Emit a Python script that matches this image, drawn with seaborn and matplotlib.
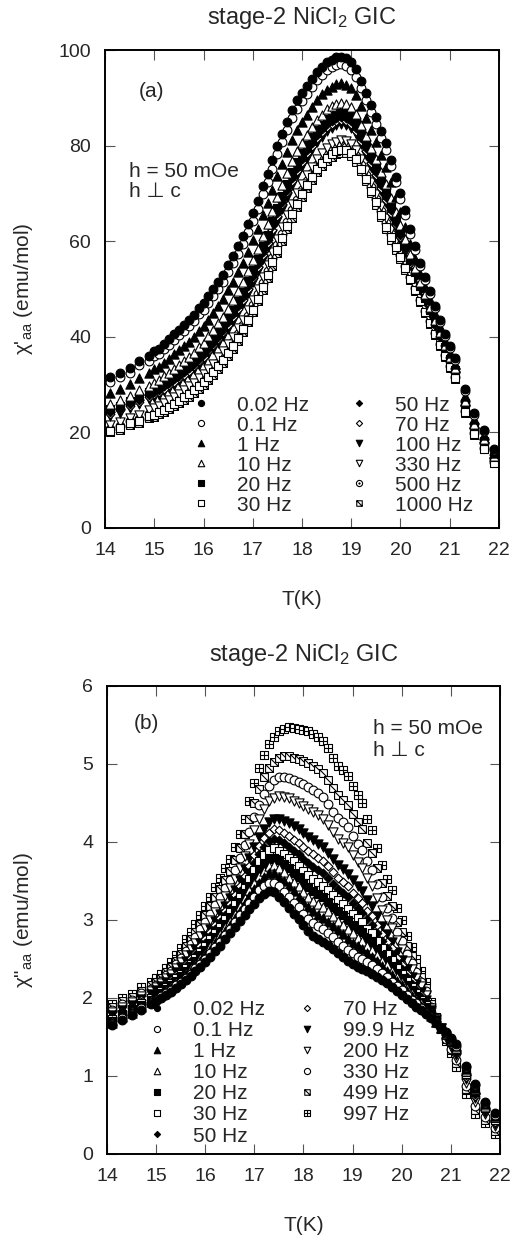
import matplotlib
matplotlib.use("Agg")
import matplotlib.pyplot as plt
from matplotlib.path import Path
from matplotlib.legend_handler import HandlerTuple
import seaborn as sns

# temperature grid (K), same for both panels
temps = [14.1, 14.3, 14.5, 14.7, 14.9, 15.0, 15.1, 15.2, 15.3, 15.4, 15.5, 15.6, 15.7, 15.8, 15.9,
         16.0, 16.1, 16.2, 16.3, 16.4, 16.5, 16.6, 16.7, 16.8, 16.9, 17.0, 17.1, 17.2, 17.3, 17.4,
         17.5, 17.6, 17.7, 17.8, 17.9, 18.0, 18.1, 18.2, 18.3, 18.4, 18.5, 18.6, 18.7, 18.8, 18.9,
         19.0, 19.1, 19.2, 19.3, 19.4, 19.5, 19.6, 19.7, 19.8, 19.9, 20.0, 20.1, 20.2, 20.3, 20.4,
         20.5, 20.6, 20.7, 20.8, 20.9, 21.0, 21.1, 21.3, 21.5, 21.7, 21.9]

# (a) chi' (emu/mol)
a_002 = [31.5, 32.5, 33.5, 35, 36, 37, 37.5, 38.5, 39.5, 40.5, 41.5, 42.5, 43.5, 44.5, 46, 47, 48.5, 50, 51.5, 53,
         55, 57, 59, 61, 63.5, 66, 68.5, 71.5, 74, 77, 80, 82.5, 85, 87.5, 89.5, 91, 92.5, 94, 95.5, 96.5,
         97.5, 98, 98.5, 98.6, 98.3, 97.5, 96, 93.5, 91, 88.5, 86, 83, 80.5, 77, 73.5, 70, 66.5, 62.5, 59, 55.5,
         52.5, 49.5, 46.5, 43.5, 40.5, 38, 35.5, 29, 24, 20.5, 16.5]
a_01 = [30.6, 31.5, 32.5, 34.0, 35.0, 35.9, 36.4, 37.4, 38.3, 39.3, 40.3, 41.2, 42.2, 43.2, 44.7, 45.6, 47.1, 48.6, 50.0, 51.5,
        53.5, 55.4, 57.4, 59.4, 61.9, 64.3, 66.8, 69.8, 72.3, 75.2, 78.2, 80.7, 83.2, 85.7, 87.7, 89.3, 90.8, 92.3, 93.8, 94.8,
        95.8, 96.4, 96.9, 97.0, 96.7, 95.9, 94.4, 92.0, 89.5, 87.0, 84.5, 81.6, 79.1, 75.7, 72.3, 68.9, 65.5, 61.6, 58.2, 54.8,
        51.9, 49.0, 46.0, 43.1, 40.1, 37.6, 35.2, 28.6, 23.6, 20.2, 16.3]
a_1 = [28.3, 29.1, 30.1, 31.4, 32.4, 33.2, 33.7, 34.5, 35.4, 36.3, 37.2, 38.1, 39.0, 40.0, 41.3, 42.2, 43.6, 45.0, 46.4, 47.9,
       49.7, 51.5, 53.5, 55.4, 57.8, 60.2, 62.6, 65.4, 67.9, 70.8, 73.7, 76.2, 78.7, 81.2, 83.2, 84.9, 86.5, 88.1, 89.6, 90.7,
       91.7, 92.3, 92.8, 93.0, 92.7, 92.0, 90.5, 88.2, 85.8, 83.3, 80.8, 78.0, 75.5, 72.3, 69.2, 66.1, 63.0, 59.5, 56.3, 53.2,
       50.4, 47.6, 44.8, 42.0, 39.2, 36.7, 34.3, 27.6, 22.7, 19.4, 15.7]
a_10 = [26.0, 26.7, 27.7, 28.8, 29.8, 30.4, 30.9, 31.7, 32.5, 33.3, 34.1, 35.0, 35.8, 36.7, 37.9, 38.8, 40.1, 41.4, 42.8, 44.2,
        45.9, 47.6, 49.5, 51.4, 53.7, 56.0, 58.4, 61.1, 63.6, 66.4, 69.2, 71.7, 74.2, 76.7, 78.8, 80.5, 82.2, 83.8, 85.4, 86.5,
        87.6, 88.2, 88.8, 89.0, 88.8, 88.0, 86.6, 84.4, 82.1, 79.6, 77.1, 74.4, 71.9, 69.0, 66.2, 63.4, 60.5, 57.4, 54.4, 51.5,
        48.9, 46.2, 43.6, 40.9, 38.2, 35.8, 33.4, 26.6, 21.8, 18.6, 15.1]
a_20 = [24.8, 25.5, 26.5, 27.5, 28.5, 29.1, 29.6, 30.3, 31.0, 31.8, 32.6, 33.4, 34.2, 35.1, 36.2, 37.1, 38.4, 39.6, 40.9, 42.3,
        44.0, 45.7, 47.5, 49.4, 51.6, 53.9, 56.3, 58.9, 61.4, 64.2, 67.0, 69.5, 72.0, 74.4, 76.5, 78.4, 80.1, 81.7, 83.3, 84.4,
        85.5, 86.2, 86.7, 86.9, 86.8, 86.1, 84.7, 82.5, 80.3, 77.8, 75.3, 72.6, 70.1, 67.3, 64.6, 62.0, 59.3, 56.3, 53.5, 50.7,
        48.2, 45.6, 43.0, 40.4, 37.8, 35.4, 33.0, 26.1, 21.4, 18.2, 14.8]
a_30 = [20.3, 20.9, 21.9, 22.4, 23.4, 23.7, 24.2, 24.7, 25.3, 26.0, 26.6, 27.3, 28.0, 28.8, 29.6, 30.5, 31.5, 32.6, 33.9, 35.2,
        36.6, 38.1, 39.8, 41.6, 43.6, 45.7, 48.0, 50.5, 53.0, 55.6, 58.2, 60.7, 63.2, 65.6, 67.8, 69.9, 71.7, 73.4, 75.0, 76.3,
        77.4, 78.2, 78.8, 79.1, 79.0, 78.4, 77.1, 75.2, 73.1, 70.6, 68.1, 65.5, 63.0, 60.8, 58.7, 56.6, 54.4, 52.1, 49.8, 47.5,
        45.2, 42.9, 40.6, 38.3, 35.9, 33.6, 31.3, 24.2, 19.6, 16.6, 13.6]
a_50 = [24.3, 24.9, 25.9, 26.8, 27.8, 28.4, 28.9, 29.6, 30.3, 31.1, 31.8, 32.6, 33.4, 34.3, 35.4, 36.3, 37.5, 38.7, 40.0, 41.4,
        43.0, 44.7, 46.5, 48.4, 50.6, 52.8, 55.2, 57.8, 60.3, 63.1, 65.8, 68.3, 70.8, 73.3, 75.4, 77.3, 79.0, 80.6, 82.2, 83.4,
        84.5, 85.2, 85.7, 85.9, 85.8, 85.1, 83.7, 81.6, 79.4, 76.9, 74.4, 71.7, 69.2, 66.5, 63.9, 61.3, 58.6, 55.8, 53.0, 50.3,
        47.8, 45.2, 42.7, 40.1, 37.5, 35.2, 32.8, 25.9, 21.2, 18.0, 14.6]
a_70 = [23.9, 24.6, 25.6, 26.4, 27.4, 28.0, 28.5, 29.1, 29.9, 30.6, 31.3, 32.1, 32.9, 33.8, 34.9, 35.8, 37.0, 38.2, 39.5, 40.9,
        42.5, 44.1, 45.9, 47.8, 50.0, 52.2, 54.6, 57.2, 59.7, 62.4, 65.2, 67.7, 70.2, 72.6, 74.7, 76.6, 78.4, 80.0, 81.6, 82.8,
        83.8, 84.5, 85.1, 85.3, 85.2, 84.5, 83.1, 81.0, 78.8, 76.3, 73.8, 71.1, 68.6, 66.0, 63.4, 60.9, 58.3, 55.4, 52.7, 50.0,
        47.6, 45.0, 42.5, 39.9, 37.4, 35.0, 32.7, 25.7, 21.0, 17.9, 14.5]
a_100 = [23.5, 24.1, 25.1, 25.9, 26.9, 27.4, 27.9, 28.6, 29.3, 30.0, 30.7, 31.5, 32.3, 33.2, 34.2, 35.1, 36.3, 37.5, 38.8, 40.1,
         41.7, 43.4, 45.1, 47.0, 49.2, 51.4, 53.7, 56.3, 58.8, 61.5, 64.3, 66.8, 69.3, 71.7, 73.8, 75.7, 77.5, 79.2, 80.7, 81.9,
         83.0, 83.7, 84.3, 84.5, 84.4, 83.7, 82.4, 80.3, 78.1, 75.6, 73.1, 70.4, 67.9, 65.3, 62.8, 60.3, 57.8, 55.0, 52.4, 49.7,
         47.3, 44.7, 42.2, 39.7, 37.2, 34.9, 32.5, 25.5, 20.9, 17.7, 14.4]
a_330 = [21.5, 22.1, 23.1, 23.7, 24.7, 25.1, 25.6, 26.2, 26.8, 27.5, 28.1, 28.8, 29.6, 30.4, 31.3, 32.2, 33.3, 34.4, 35.7, 37.0,
         38.5, 40.0, 41.8, 43.6, 45.7, 47.8, 50.1, 52.6, 55.1, 57.8, 60.4, 62.9, 65.4, 67.8, 70.0, 72.0, 73.9, 75.6, 77.1, 78.4,
         79.5, 80.3, 80.8, 81.1, 81.0, 80.4, 79.0, 77.1, 74.9, 72.4, 69.9, 67.3, 64.8, 62.5, 60.2, 58.0, 55.6, 53.2, 50.7, 48.3,
         46.0, 43.6, 41.2, 38.8, 36.4, 34.1, 31.8, 24.7, 20.1, 17.0, 13.9]
a_500 = [20.8, 21.3, 22.3, 22.9, 23.9, 24.3, 24.8, 25.3, 25.9, 26.6, 27.2, 27.9, 28.6, 29.4, 30.3, 31.2, 32.2, 33.4, 34.6, 35.9,
         37.3, 38.9, 40.6, 42.4, 44.4, 46.6, 48.9, 51.3, 53.8, 56.5, 59.1, 61.6, 64.1, 66.5, 68.7, 70.7, 72.6, 74.3, 75.9, 77.2,
         78.3, 79.0, 79.6, 79.9, 79.8, 79.2, 77.9, 75.9, 73.8, 71.3, 68.8, 66.3, 63.8, 61.5, 59.3, 57.2, 54.9, 52.6, 50.2, 47.8,
         45.5, 43.2, 40.8, 38.5, 36.1, 33.8, 31.5, 24.4, 19.8, 16.8, 13.7]
a_1000 = [20, 20.5, 21.5, 22, 23, 23.3, 23.8, 24.3, 24.9, 25.5, 26.1, 26.8, 27.5, 28.3, 29.1, 30, 31, 32.1, 33.3, 34.6,
          36, 37.5, 39.2, 41, 43, 45.1, 47.4, 49.8, 52.3, 54.9, 57.5, 60, 62.5, 64.9, 67.1, 69.2, 71.1, 72.8, 74.4, 75.7,
          76.8, 77.6, 78.2, 78.5, 78.4, 77.8, 76.5, 74.6, 72.5, 70, 67.5, 65, 62.5, 60.3, 58.2, 56.2, 54, 51.8, 49.5, 47.2,
          45, 42.7, 40.4, 38.1, 35.8, 33.5, 31.2, 24, 19.5, 16.5, 13.5]

# (b) chi'' (emu/mol)
b_002 = [1.65, 1.72, 1.78, 1.85, 1.92, 1.96, 2.00, 2.04, 2.08, 2.13, 2.18, 2.23, 2.28, 2.34, 2.40, 2.46, 2.53, 2.60, 2.67, 2.75,
         2.83, 2.91, 2.99, 3.07, 3.14, 3.21, 3.28, 3.33, 3.37, 3.36, 3.30, 3.23, 3.15, 3.08, 3.01, 2.93, 2.86, 2.80, 2.76, 2.72,
         2.68, 2.63, 2.58, 2.53, 2.48, 2.44, 2.40, 2.37, 2.34, 2.31, 2.27, 2.23, 2.19, 2.14, 2.09, 2.04, 1.99, 1.94, 1.89, 1.84,
         1.79, 1.74, 1.68, 1.62, 1.56, 1.49, 1.41, 1.13, 0.90, 0.67, 0.52]
b_01 = [1.67, 1.74, 1.80, 1.87, 1.94, 1.98, 2.02, 2.06, 2.10, 2.16, 2.21, 2.26, 2.31, 2.38, 2.44, 2.50, 2.58, 2.65, 2.72, 2.81,
        2.89, 2.97, 3.06, 3.14, 3.22, 3.30, 3.38, 3.44, 3.48, 3.48, 3.43, 3.36, 3.29, 3.22, 3.16, 3.08, 3.01, 2.96, 2.92, 2.88,
        2.83, 2.78, 2.72, 2.67, 2.62, 2.58, 2.53, 2.50, 2.46, 2.42, 2.37, 2.32, 2.27, 2.21, 2.15, 2.10, 2.04, 1.98, 1.93, 1.87,
        1.81, 1.75, 1.69, 1.62, 1.55, 1.48, 1.39, 1.11, 0.88, 0.65, 0.50]
b_1 = [1.68, 1.75, 1.81, 1.89, 1.95, 2.00, 2.04, 2.08, 2.13, 2.18, 2.24, 2.29, 2.35, 2.41, 2.48, 2.55, 2.62, 2.70, 2.77, 2.86,
       2.94, 3.03, 3.12, 3.22, 3.31, 3.40, 3.48, 3.55, 3.60, 3.60, 3.55, 3.50, 3.43, 3.37, 3.30, 3.23, 3.17, 3.11, 3.07, 3.03,
       2.98, 2.92, 2.87, 2.82, 2.76, 2.71, 2.66, 2.63, 2.58, 2.53, 2.47, 2.41, 2.35, 2.29, 2.22, 2.16, 2.09, 2.03, 1.96, 1.90,
       1.84, 1.77, 1.69, 1.62, 1.55, 1.47, 1.38, 1.09, 0.85, 0.64, 0.49]
b_10 = [1.70, 1.77, 1.83, 1.90, 1.97, 2.01, 2.05, 2.10, 2.15, 2.20, 2.26, 2.32, 2.38, 2.44, 2.51, 2.58, 2.66, 2.74, 2.82, 2.91,
        2.99, 3.08, 3.18, 3.28, 3.38, 3.47, 3.56, 3.63, 3.69, 3.70, 3.66, 3.61, 3.54, 3.49, 3.43, 3.36, 3.30, 3.24, 3.20, 3.16,
        3.11, 3.05, 2.99, 2.94, 2.88, 2.83, 2.77, 2.73, 2.67, 2.62, 2.55, 2.48, 2.42, 2.35, 2.27, 2.20, 2.13, 2.06, 1.99, 1.93,
        1.86, 1.78, 1.69, 1.62, 1.54, 1.46, 1.36, 1.07, 0.83, 0.62, 0.47]
b_20 = [1.71, 1.78, 1.84, 1.91, 1.98, 2.02, 2.07, 2.12, 2.16, 2.22, 2.28, 2.34, 2.41, 2.47, 2.55, 2.62, 2.70, 2.78, 2.86, 2.95,
        3.04, 3.13, 3.23, 3.34, 3.44, 3.55, 3.65, 3.72, 3.78, 3.80, 3.77, 3.72, 3.66, 3.60, 3.55, 3.48, 3.42, 3.37, 3.33, 3.29,
        3.23, 3.17, 3.11, 3.06, 3.00, 2.94, 2.88, 2.84, 2.77, 2.72, 2.63, 2.55, 2.48, 2.41, 2.32, 2.25, 2.17, 2.10, 2.02, 1.95,
        1.88, 1.79, 1.70, 1.62, 1.54, 1.45, 1.35, 1.05, 0.81, 0.61, 0.46]
b_30 = [1.73, 1.80, 1.86, 1.93, 2.00, 2.04, 2.09, 2.14, 2.19, 2.25, 2.31, 2.38, 2.44, 2.51, 2.59, 2.66, 2.75, 2.83, 2.91, 3.01,
        3.10, 3.20, 3.30, 3.41, 3.53, 3.64, 3.75, 3.83, 3.90, 3.92, 3.89, 3.85, 3.80, 3.75, 3.69, 3.63, 3.58, 3.53, 3.49, 3.44,
        3.39, 3.32, 3.25, 3.20, 3.14, 3.08, 3.02, 2.97, 2.89, 2.83, 2.73, 2.64, 2.56, 2.49, 2.39, 2.31, 2.22, 2.14, 2.06, 1.98,
        1.91, 1.80, 1.70, 1.61, 1.53, 1.44, 1.33, 1.03, 0.79, 0.59, 0.44]
b_50 = [1.74, 1.82, 1.87, 1.95, 2.02, 2.06, 2.11, 2.16, 2.21, 2.27, 2.34, 2.41, 2.47, 2.55, 2.62, 2.71, 2.79, 2.88, 2.97, 3.06,
        3.15, 3.26, 3.37, 3.49, 3.61, 3.73, 3.85, 3.94, 4.01, 4.04, 4.02, 3.99, 3.94, 3.89, 3.84, 3.78, 3.73, 3.68, 3.64, 3.60,
        3.54, 3.46, 3.40, 3.34, 3.29, 3.22, 3.15, 3.09, 3.01, 2.94, 2.83, 2.73, 2.64, 2.56, 2.45, 2.37, 2.27, 2.18, 2.10, 2.01,
        1.93, 1.81, 1.71, 1.61, 1.52, 1.43, 1.31, 1.01, 0.77, 0.58, 0.43]
b_70 = [1.76, 1.83, 1.89, 1.97, 2.03, 2.08, 2.12, 2.18, 2.23, 2.30, 2.36, 2.44, 2.51, 2.58, 2.66, 2.75, 2.84, 2.93, 3.02, 3.11,
        3.21, 3.32, 3.43, 3.56, 3.69, 3.83, 3.95, 4.05, 4.12, 4.16, 4.15, 4.12, 4.08, 4.03, 3.99, 3.93, 3.88, 3.84, 3.80, 3.75,
        3.69, 3.61, 3.54, 3.49, 3.43, 3.35, 3.28, 3.22, 3.12, 3.05, 2.93, 2.82, 2.72, 2.64, 2.51, 2.42, 2.31, 2.22, 2.13, 2.04,
        1.95, 1.82, 1.71, 1.61, 1.52, 1.41, 1.29, 0.99, 0.74, 0.56, 0.41]
b_999 = [1.78, 1.85, 1.91, 1.99, 2.05, 2.10, 2.15, 2.20, 2.26, 2.33, 2.40, 2.47, 2.55, 2.63, 2.71, 2.80, 2.89, 2.99, 3.08, 3.18,
         3.28, 3.39, 3.51, 3.65, 3.79, 3.93, 4.07, 4.17, 4.25, 4.30, 4.30, 4.27, 4.24, 4.20, 4.16, 4.11, 4.06, 4.02, 3.98, 3.93,
         3.86, 3.78, 3.71, 3.65, 3.59, 3.51, 3.43, 3.37, 3.26, 3.18, 3.05, 2.92, 2.82, 2.72, 2.59, 2.49, 2.37, 2.27, 2.18, 2.08,
         1.98, 1.84, 1.72, 1.61, 1.51, 1.40, 1.27, 0.96, 0.72, 0.54, 0.39]
b_200 = [1.82, 1.89, 1.95, 2.03, 2.09, 2.14, 2.19, 2.25, 2.31, 2.39, 2.46, 2.55, 2.63, 2.71, 2.80, 2.90, 3.00, 3.10, 3.20, 3.31,
         3.41, 3.53, 3.67, 3.82, 3.98, 4.15, 4.30, 4.42, 4.52, 4.57, 4.59, 4.58, 4.57, 4.53, 4.50, 4.46, 4.42, 4.38, 4.34, 4.29,
         4.22, 4.13, 4.04, 3.99, 3.93, 3.83, 3.74, 3.67, 3.54, 3.43, 3.28, 3.13, 3.00, 2.90, 2.74, 2.63, 2.48, 2.37, 2.26, 2.15,
         2.04, 1.87, 1.73, 1.61, 1.49, 1.37, 1.23, 0.91, 0.66, 0.51, 0.36]
b_330 = [1.84, 1.92, 1.97, 2.06, 2.12, 2.17, 2.22, 2.29, 2.35, 2.43, 2.51, 2.60, 2.69, 2.78, 2.88, 2.98, 3.08, 3.19, 3.30, 3.41,
         3.51, 3.64, 3.79, 3.96, 4.13, 4.32, 4.48, 4.62, 4.72, 4.79, 4.83, 4.83, 4.82, 4.79, 4.77, 4.74, 4.70, 4.67, 4.63, 4.58,
         4.49, 4.39, 4.31, 4.25, 4.19, 4.08, 3.98, 3.90, 3.75, 3.64, 3.46, 3.29, 3.15, 3.03, 2.85, 2.73, 2.57, 2.45, 2.33, 2.21,
         2.09, 1.89, 1.74, 1.61, 1.48, 1.35, 1.20, 0.87, 0.62, 0.48, 0.33]
b_499 = [1.88, 1.96, 2.01, 2.09, 2.16, 2.20, 2.26, 2.33, 2.40, 2.48, 2.57, 2.67, 2.76, 2.85, 2.95, 3.07, 3.18, 3.29, 3.40, 3.51,
         3.63, 3.77, 3.92, 4.10, 4.30, 4.50, 4.68, 4.83, 4.95, 5.03, 5.08, 5.10, 5.10, 5.08, 5.06, 5.04, 5.01, 4.98, 4.94, 4.89,
         4.80, 4.69, 4.60, 4.54, 4.47, 4.36, 4.25, 4.16, 3.99, 3.86, 3.66, 3.47, 3.31, 3.18, 2.98, 2.85, 2.67, 2.54, 2.40, 2.27,
         2.13, 1.92, 1.75, 1.60, 1.47, 1.33, 1.17, 0.83, 0.57, 0.44, 0.29]
b_997 = [1.92, 2.00, 2.05, 2.14, 2.20, 2.25, 2.31, 2.38, 2.46, 2.55, 2.64, 2.75, 2.85, 2.95, 3.06, 3.18, 3.30, 3.42, 3.54, 3.66,
         3.78, 3.93, 4.10, 4.30, 4.52, 4.75, 4.95, 5.12, 5.25, 5.35, 5.42, 5.45, 5.47, 5.46, 5.45, 5.44, 5.42, 5.39, 5.35, 5.30,
         5.20, 5.08, 4.98, 4.92, 4.85, 4.72, 4.60, 4.50, 4.30, 4.15, 3.92, 3.70, 3.52, 3.38, 3.15, 3.00, 2.80, 2.65, 2.50, 2.35,
         2.20, 1.95, 1.76, 1.60, 1.45, 1.30, 1.12, 0.77, 0.51, 0.40, 0.25]

# marker shapes: square with a slash, square with a cross
box_slash = Path([(-1, -1), (1, -1), (1, 1), (-1, 1), (-1, -1), (-1, 1), (1, -1)],
                 [Path.MOVETO, Path.LINETO, Path.LINETO, Path.LINETO, Path.CLOSEPOLY, Path.MOVETO, Path.LINETO])
box_plus = Path([(-1, -1), (1, -1), (1, 1), (-1, 1), (-1, -1), (0, -1), (0, 1), (-1, 0), (1, 0)],
                [Path.MOVETO, Path.LINETO, Path.LINETO, Path.LINETO, Path.CLOSEPOLY,
                 Path.MOVETO, Path.LINETO, Path.MOVETO, Path.LINETO])

sizes = {"o": 40, "^": 44, "v": 44, "s": 30, "D": 20}

series_a = [("0.02 Hz", a_002, "o", True), ("0.1 Hz", a_01, "o", False),
            ("1 Hz", a_1, "^", True), ("10 Hz", a_10, "^", False),
            ("20 Hz", a_20, "s", True), ("30 Hz", a_30, "s", False),
            ("50 Hz", a_50, "D", True), ("70 Hz", a_70, "D", False),
            ("100 Hz", a_100, "v", True), ("330 Hz", a_330, "v", False),
            ("500 Hz", a_500, "odot", False), ("1000 Hz", a_1000, box_slash, False)]

series_b = [("0.02 Hz", b_002, "o", True), ("0.1 Hz", b_01, "o", False),
            ("1 Hz", b_1, "^", True), ("10 Hz", b_10, "^", False),
            ("20 Hz", b_20, "s", True), ("30 Hz", b_30, "s", False),
            ("50 Hz", b_50, "D", True), ("70 Hz", b_70, "D", False),
            ("99.9 Hz", b_999, "v", True), ("200 Hz", b_200, "v", False),
            ("330 Hz", b_330, "o", False), ("499 Hz", b_499, box_slash, False),
            ("997 Hz", b_997, box_plus, False)]

sns.set_theme(style="ticks")
plt.rcParams["font.family"] = ["Liberation Sans", "DejaVu Sans"]
plt.rcParams["mathtext.fontset"] = "custom"
plt.rcParams["mathtext.rm"] = "Liberation Sans"
plt.rcParams["mathtext.it"] = "Liberation Sans"


def draw_panel(ax, series):
    handles = {}
    # high frequencies first so the low-frequency symbols end up on top
    for label, vals, mk, filled in reversed(series):
        face = "black" if filled else "white"
        if mk == "odot":
            sns.scatterplot(x=temps, y=vals, ax=ax, marker="o", s=40, color="white",
                            edgecolor="black", linewidth=0.8, legend=False)
            h1 = ax.collections[-1]
            sns.scatterplot(x=temps, y=vals, ax=ax, marker="o", s=3, color="black",
                            edgecolor="black", linewidth=0.3, legend=False)
            handles[label] = (h1, ax.collections[-1])
        else:
            sz = sizes.get(mk, 30) if isinstance(mk, str) else 32
            sns.scatterplot(x=temps, y=vals, ax=ax, marker=mk, s=sz, color=face,
                            edgecolor="black", linewidth=0.8, legend=False)
            handles[label] = ax.collections[-1]
    return [handles[s[0]] for s in series], [s[0] for s in series]


def style_axes(ax, ylim, yticks):
    ax.set_xlim(14, 22)
    ax.set_ylim(*ylim)
    ax.set_xticks(range(14, 23))
    ax.set_yticks(yticks)
    ax.tick_params(direction="in", length=7, width=0.8, color="#555555", top=True, right=True,
                   labelsize=14, pad=10)
    for sp in ax.spines.values():
        sp.set_linewidth(1.4)
        sp.set_color("black")
        sp.set_visible(True)


fig = plt.figure(figsize=(5.13, 12.47), dpi=100)

# ---- panel (a)
ax1 = fig.add_axes([0.2047, 0.5766, 0.768, 0.3833])
hs, ls = draw_panel(ax1, series_a)
style_axes(ax1, (0, 100), range(0, 101, 20))
ax1.set_title("stage-2 NiCl$_2$ GIC", fontsize=17, pad=19)
ax1.set_xlabel("T(K)", fontsize=15)
ax1.set_ylabel("\u03c7'$_{\\mathrm{aa}}$ (emu/mol)", fontsize=15)
ax1.xaxis.set_label_coords(0.5, -0.13)
ax1.yaxis.set_label_coords(-0.178, 0.5)
ax1.text(0.118, 0.913, "(a)", transform=ax1.transAxes, ha="center", va="center", fontsize=15)
ax1.text(0.062, 0.745, "h = 50 mOe", transform=ax1.transAxes, ha="left", va="center", fontsize=15)
ax1.text(0.062, 0.704, "h \u22a5 c", transform=ax1.transAxes, ha="left", va="center", fontsize=15)
ax1.legend(hs, ls, ncol=2, loc="upper left", bbox_to_anchor=(0.2226, 0.277), frameon=False,
           fontsize=15, handlelength=0.8, handletextpad=1.32, columnspacing=2.0,
           labelspacing=0.05, borderpad=0, borderaxespad=0, markerscale=0.7,
           scatteryoffsets=[0.5], handler_map={tuple: HandlerTuple(ndivide=1)})

# ---- panel (b)
ax2 = fig.add_axes([0.2086, 0.0746, 0.766, 0.3753])
hs, ls = draw_panel(ax2, series_b)
style_axes(ax2, (0, 6), range(0, 7))
ax2.set_title("stage-2 NiCl$_2$ GIC", fontsize=17, pad=18)
ax2.set_xlabel("T(K)", fontsize=15)
ax2.set_ylabel("\u03c7\"$_{\\mathrm{aa}}$ (emu/mol)", fontsize=15)
ax2.xaxis.set_label_coords(0.5, -0.1325)
ax2.yaxis.set_label_coords(-0.183, 0.5)
ax2.text(0.101, 0.920, "(b)", transform=ax2.transAxes, ha="center", va="center", fontsize=15)
ax2.text(0.678, 0.9096, "h = 50 mOe", transform=ax2.transAxes, ha="left", va="center", fontsize=15)
ax2.text(0.678, 0.863, "h \u22a5 c", transform=ax2.transAxes, ha="left", va="center", fontsize=15)
ax2.legend(hs, ls, ncol=2, loc="upper left", bbox_to_anchor=(0.106, 0.329), frameon=False,
           fontsize=15, handlelength=0.8, handletextpad=1.32, columnspacing=1.63,
           labelspacing=0.1, borderpad=0, borderaxespad=0, markerscale=0.7,
           scatteryoffsets=[0.5])

fig.savefig("out.png", dpi=100)
